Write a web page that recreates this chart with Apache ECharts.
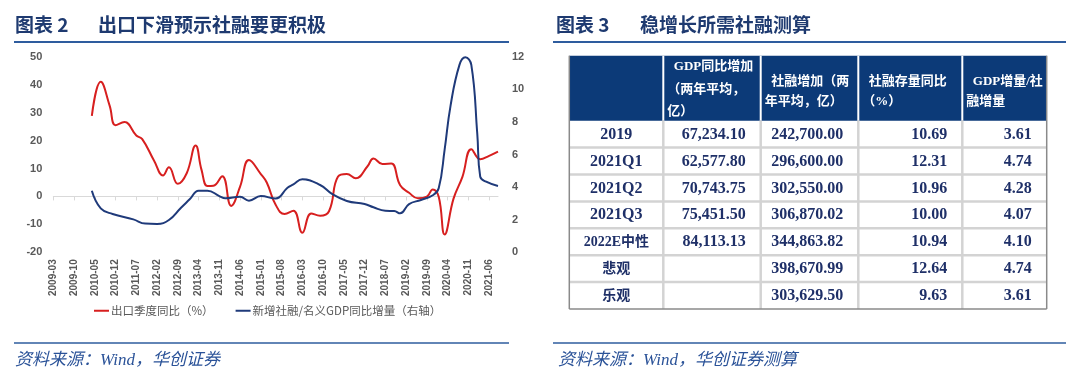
<!DOCTYPE html>
<html><head><meta charset="utf-8">
<script src="https://cdn.jsdelivr.net/npm/echarts@6/dist/echarts.min.js"></script>
<style>html,body{margin:0;padding:0;background:#fff}#c{width:1080px;height:381px}</style>
</head><body><div id="c"></div>
<script>
// ---------- DATA ----------
// monthly category axis 2009-03 .. 2021-09
const firstMonth = '2009-03', monthCount = 151;
const tickLabels = ['2009-03','2009-10','2010-05','2010-12','2011-07','2012-02','2012-09','2013-04','2013-11','2014-06','2015-01','2015-08','2016-03','2016-10','2017-05','2017-12','2018-07','2019-02','2019-09','2020-04','2020-11','2021-06'];
const leftAxisTicks = [-20, -10, 0, 10, 20, 30, 40, 50];
const rightAxisTicks = [0, 2, 4, 6, 8, 10, 12];

// 出口季度同比（%） – values
const exportYoY = [
  ['2010-04',28.8],['2010-07',41.0],['2010-10',32.5],['2010-12',25.5],['2011-03',26.6],['2011-07',21.8],
  ['2011-09',20.5],['2012-01',12.8],['2012-04',7.5],['2012-06',10.4],['2012-09',4.5],['2012-12',8.3],
  ['2013-03',18.2],['2013-05',9.5],['2013-07',3.7],['2013-09',3.8],['2013-12',7.2],['2014-03',-3.4],
  ['2014-06',3.5],['2014-09',13.0],['2015-01',8.0],['2015-03',5.0],['2015-06',-3.0],['2015-09',-6.3],
  ['2015-12',-5.1],['2016-03',-13.0],['2016-06',-6.1],['2016-09',-6.9],['2016-12',-5.3],['2017-03',7.0],
  ['2017-06',8.0],['2017-09',6.5],['2018-01',10.8],['2018-03',13.6],['2018-06',11.6],['2018-09',11.8],
  ['2018-12',4.0],['2019-03',1.3],['2019-06',-0.7],['2019-09',-0.1],['2019-11',2.5],['2020-01',-0.1],
  ['2020-03',-13.6],['2020-06',-0.8],['2020-09',7.0],['2020-12',16.9],['2021-03',13.3],['2021-06',14.5],
  ['2021-09',16.0]
];
// 新增社融/名义GDP同比增量（右轴）
const tsfToGdp = [
  ['2010-04',3.78],['2010-07',2.70],['2010-11',2.35],['2011-06',2.02],['2011-10',1.76],['2012-02',1.74],
  ['2012-06',1.98],['2012-10',2.72],['2013-01',3.25],['2013-04',3.78],['2013-07',3.78],['2013-11',3.45],
  ['2014-01',3.31],['2014-06',3.41],['2014-09',3.17],['2015-01',3.45],['2015-06',3.30],['2015-10',3.96],
  ['2015-12',4.17],['2016-03',4.48],['2016-09',4.13],['2017-01',3.58],['2017-06',3.15],['2017-12',2.96],
  ['2018-03',2.76],['2018-07',2.55],['2018-10',2.53],['2018-12',2.39],['2019-03',2.96],['2019-07',3.21],
  ['2019-11',3.50],['2020-01',3.93],['2020-03',6.3],['2020-05',9.0],['2020-08',11.5],['2020-10',11.96],
  ['2020-12',11.5],['2021-02',7.3],['2021-03',4.64],['2021-05',4.33],['2021-09',4.07]
];
const seriesNames = ['出口季度同比（%）', '新增社融/名义GDP同比增量（右轴）'];

// table (图表 3)
const headerLines = [[], ['GDP同比增加', '（两年平均，', '亿）'], ['社融增加（两', '年平均，亿）'], ['社融存量同比', '（%）'], ['GDP增量/社', '融增量']];
const rowLabels = ['2019', '2021Q1', '2021Q2', '2021Q3', '2022E中性', '悲观', '乐观'];
const gdpIncrease = [67234.10, 62577.80, 70743.75, 75451.50, 84113.13, null, null];
const tsfIncrease = [242700.00, 296600.00, 302550.00, 306870.02, 344863.82, 398670.99, 303629.50];
const tsfStockYoY = [10.69, 12.31, 10.96, 10.00, 10.94, 12.64, 9.63];
const gdpToTsf = [3.61, 4.74, 4.28, 4.07, 4.10, 4.74, 3.61];

const titleLeft = ['图表 2', '出口下滑预示社融要更积极'];
const titleRight = ['图表 3', '稳增长所需社融测算'];
const sourceLeft = '资料来源：Wind，华创证券';
const sourceRight = '资料来源：Wind，华创证券测算';

// ---------- BUILD ----------
const months = [];
{
  const [y0, m0] = firstMonth.split('-').map(Number);
  for (let i = 0; i < monthCount; i++) {
    const t = m0 - 1 + i;
    const y = y0 + Math.floor(t / 12), m = t % 12 + 1;
    months.push(y + '-' + (m < 10 ? '0' : '') + m);
  }
}
const fmt = v => v == null ? '' : v.toLocaleString('en-US', {minimumFractionDigits: 2, maximumFractionDigits: 2});

const NAVY = '#1e3a70', LINEBLUE = '#2e5c9e', SRC = '#2a5298';
const g = [];
function txt(x, y, text, style) {
  g.push({type: 'text', x: x, y: y, silent: true,
    style: Object.assign({text: text, fill: NAVY, font: 'bold 19px "Noto Sans CJK SC"', textAlign: 'left', textVerticalAlign: 'middle'}, style)});
}
function ln(x1, y1, x2, y2, color, w) {
  g.push({type: 'line', silent: true, shape: {x1: x1, y1: y1, x2: x2, y2: y2}, style: {stroke: color, lineWidth: w}});
}
function rc(x, y, w, h, fill) {
  g.push({type: 'rect', silent: true, shape: {x: x, y: y, width: w, height: h}, style: {fill: fill}});
}

// titles, rules, sources
txt(15, 25, titleLeft[0]); txt(98, 25, titleLeft[1]);
txt(556, 25, titleRight[0]); txt(640, 25, titleRight[1]);
ln(14, 42, 509, 42, LINEBLUE, 2); ln(553, 42, 1066, 42, LINEBLUE, 2);
ln(14, 343, 509, 343, LINEBLUE, 1.5); ln(553, 343, 1066, 343, LINEBLUE, 1.5);
const srcFont = 'italic 17px "Liberation Serif", "Noto Sans CJK SC"';
txt(15, 361, sourceLeft, {fill: SRC, font: srcFont});
txt(558, 361, sourceRight, {fill: SRC, font: srcFont});

// table
const colX = [569.3, 663.3, 760.7, 858.3, 962.3, 1046.7];
const headTop = 55.7, headBot = 120.7, rowH = 26.9, nRows = rowLabels.length;
const tableBot = headBot + rowH * nRows;
rc(colX[0], headTop, colX[5] - colX[0], headBot - headTop, '#0c3a78');
for (let k = 1; k < nRows; k++) ln(colX[0], headBot + k * rowH, colX[5], headBot + k * rowH, '#d3d3d3', 2.5);
for (let c = 1; c < 5; c++) {
  ln(colX[c], headTop, colX[c], headBot, '#ffffff', 2);
  ln(colX[c], headBot, colX[c], tableBot, '#d3d3d3', 2.5);
}
ln(colX[0], headTop, colX[0], tableBot, '#8a8a8a', 1.5);
ln(colX[5], headTop, colX[5], tableBot, '#8a8a8a', 1.5);
ln(colX[0], tableBot, colX[5], tableBot, '#8a8a8a', 1.5);
const headFont = 'bold 13px "Liberation Serif", "Noto Sans CJK SC"';
headerLines.forEach((lines, c) => {
  const ys = lines.length === 3 ? [67, 89.5, 111.5] : [81.7, 101.5];
  lines.forEach((s, i) => txt(colX[c] + (i === 0 ? 10.5 : 4), ys[i], s, {fill: '#ffffff', font: headFont}));
});
const bodyFont = 'bold 16px "Liberation Serif", "Noto Sans CJK SC"';
const cjkLabelFont = 'bold 14px "Liberation Serif", "Noto Sans CJK SC"';
const BODY = '#1f3068';
const cols = [gdpIncrease.map(fmt), tsfIncrease.map(fmt), tsfStockYoY.map(fmt), gdpToTsf.map(fmt)];
rowLabels.forEach((lab, r) => {
  const yc = headBot + rowH * r + rowH / 2 + 0.5;
  const hasCjk = /[\u4e00-\u9fff]/.test(lab);
  txt((colX[0] + colX[1]) / 2, yc, lab, {fill: BODY, font: hasCjk ? cjkLabelFont : bodyFont, textAlign: 'center'});
  cols.forEach((col, c) => {
    if (col[r]) txt(colX[c + 2] - 15, yc, col[r], {fill: BODY, font: bodyFont, textAlign: 'right'});
  });
});

const axisLabelStyle = {color: '#595959', fontSize: 11, fontWeight: 'bold', fontFamily: 'Liberation Sans'};
const option = {
  animation: false,
  backgroundColor: '#ffffff',
  grid: {left: 53.3, top: 56.7, width: 444.7, height: 195.6, containLabel: false},
  legend: {
    left: 89, top: 300, itemWidth: 15, itemHeight: 2, itemGap: 22, icon: 'rect',
    textStyle: {color: '#595959', fontSize: 11.5, fontFamily: '"Noto Sans CJK SC"', padding: [0, 0, 0, -3]},
    data: seriesNames
  },
  xAxis: [{
    type: 'category', data: months, boundaryGap: false,
    axisLine: {onZero: true, onZeroAxisIndex: 0, lineStyle: {color: '#d9d9d9', width: 1}},
    axisTick: {show: true, interval: (i, v) => tickLabels.includes(v), length: 4, lineStyle: {color: '#d9d9d9'}},
    axisLabel: {interval: (i, v) => tickLabels.includes(v), rotate: 90, margin: 7, fontSize: 10, color: '#595959', fontWeight: 'bold', fontFamily: 'Liberation Sans'},
    splitLine: {show: false}
  }],
  yAxis: [{
    type: 'value', position: 'left', min: leftAxisTicks[0], max: leftAxisTicks[leftAxisTicks.length - 1], interval: 10,
    axisLine: {show: false}, axisTick: {show: false}, splitLine: {show: false},
    axisLabel: Object.assign({margin: 11}, axisLabelStyle)
  }, {
    type: 'value', position: 'right', min: rightAxisTicks[0], max: rightAxisTicks[rightAxisTicks.length - 1], interval: 2,
    axisLine: {show: false}, axisTick: {show: false}, splitLine: {show: false},
    axisLabel: Object.assign({margin: 14}, axisLabelStyle)
  }],
  series: [{
    name: seriesNames[0], type: 'line', yAxisIndex: 0, data: exportYoY, smooth: 0.45, showSymbol: false,
    lineStyle: {color: '#d71f1f', width: 2}, itemStyle: {color: '#d71f1f'}
  }, {
    name: seriesNames[1], type: 'line', yAxisIndex: 1, data: tsfToGdp, smooth: 0.45, showSymbol: false,
    lineStyle: {color: '#1f3a7a', width: 2}, itemStyle: {color: '#1f3a7a'}
  }],
  graphic: g
};
const chart = echarts.init(document.getElementById('c'), null, {renderer: 'canvas', width: 1080, height: 381});
chart.setOption(option);
</script>
</body></html>
